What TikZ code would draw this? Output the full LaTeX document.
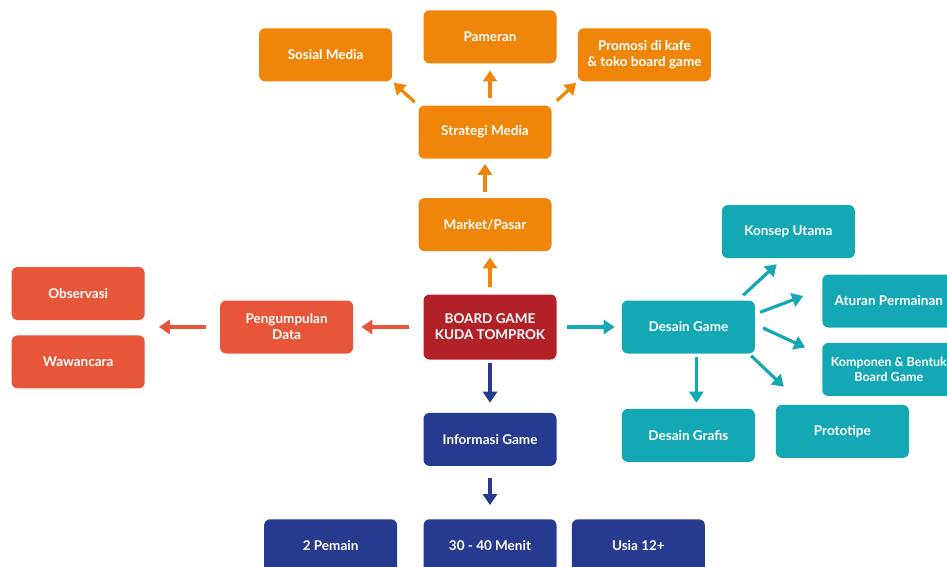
\documentclass[tikz,border=0pt]{standalone}
\usepackage{fontspec}
\setmainfont{Lato}
\usepackage{tikz}
\usetikzlibrary{positioning,arrows.meta}

\definecolor{orangebox}{RGB}{239,134,10}
\definecolor{redbox}{RGB}{232,86,58}
\definecolor{darkbox}{RGB}{178,33,39}
\definecolor{tealbox}{RGB}{20,168,181}
\definecolor{navybox}{RGB}{38,59,143}

\begin{document}
\begin{tikzpicture}[main/.style = {rectangle, rounded corners=6pt, minimum width=133pt, minimum height=53pt, inner sep=0pt, text=white, align=center, font=\bfseries\fontsize{13.5pt}{16pt}\selectfont},
    arr/.style = {line width=3.2pt, -{Triangle[width=14pt,length=11pt]}}]
            \useasboundingbox (0,0) rectangle (947pt,-567pt);
            \node[main, fill=darkbox, minimum height=65pt] (1) at (490pt,-327pt) {BOARD GAME\\KUDA TOMPROK};
            \node[main, fill=orangebox] (2) [above=43pt of 1, xshift=-5pt] {Market/Pasar};
            \node[main, fill=orangebox] (3) [above=39pt of 2] {Strategi Media};
            \node[main, fill=orangebox] (4) [above=42pt of 3, xshift=5pt] {Pameran};
            \node[main, fill=orangebox] (5) [above left=24pt and 26pt of 3] {Sosial Media};
            \node[main, fill=orangebox] (6) [above right=24pt and 26pt of 3] {Promosi di kafe\\\& toko board game};
            \node[main, fill=redbox] (7) [left=70pt of 1] {Pengumpulan\\Data};
            \node[main, fill=redbox] (8) [left=75pt of 7, yshift=33.5pt] {Observasi};
            \node[main, fill=redbox] (9) [below=15pt of 8] {Wawancara};
            \coordinate (m) at (7 -| 8.east);
            \node[main, fill=tealbox] (10) [right=65pt of 1] {Desain Game};
            \node[main, fill=tealbox] (11) [above=42pt of 10, xshift=100pt] {Konsep Utama};
            \node[main, fill=tealbox] (12) [right=67pt of 10, yshift=26pt] {Aturan Permainan};
            \node[main, fill=tealbox, font=\bfseries\fontsize{12.5pt}{15.5pt}\selectfont] (13) [below=15pt of 12] {Komponen \& Bentuk\\Board Game};
            \node[main, fill=tealbox] (14) [below=51pt of 10, xshift=154pt] {Prototipe};
            \node[main, fill=tealbox] (15) [below=55pt of 10] {Desain Grafis};
            \node[main, fill=navybox] (16) [below=53pt of 1] {Informasi Game};
            \node[main, fill=navybox] (17) [below=53pt of 16] {30 - 40 Menit};
            \node[main, fill=navybox] (18) [left=26pt of 17] {2 Pemain};
            \node[main, fill=navybox] (19) [right=15pt of 17] {Usia 12+};
            \draw[arr, orangebox, shorten <=7pt, shorten >=6pt] (1.north) -- (1.north |- 2.south);
            \draw[arr, orangebox, shorten <=6pt, shorten >=5pt] (2.north) -- (3.south);
            \draw[arr, orangebox, shorten <=7pt, shorten >=7pt] (4.south |- 3.north) -- (4.south);
            \draw[arr, orangebox, shorten <=5pt, shorten >=2pt] (3.north west) -- (5.south east);
            \draw[arr, orangebox, shorten <=7pt, shorten >=2pt] (3.north east) -- (6.south west);
            \draw[arr, redbox, shorten <=14pt, shorten >=8pt] (1.west) -- (7.east);
            \draw[arr, redbox, shorten <=14pt, shorten >=14pt] (7.west) -- (m);
            \draw[arr, tealbox, shorten <=10pt, shorten >=7pt] (1.east) -- (10.west);
            \draw[arr, tealbox] ([shift={(-12pt,5pt)}]10.north east) -- ([shift={(55pt,-6pt)}]11.south west);
            \draw[arr, tealbox] ([shift={(5pt,-12pt)}]10.north east) -- ([shift={(-19pt,5pt)}]12.west);
            \draw[arr, tealbox] ([shift={(8pt,-1pt)}]10.east) -- ([shift={(-17pt,22pt)}]13.west);
            \draw[arr, tealbox] ([shift={(-4pt,-2pt)}]10.south east) -- ([shift={(8pt,18pt)}]14.north west);
            \draw[arr, tealbox] ([shift={(8pt,-3pt)}]10.south) -- ([shift={(8pt,6pt)}]15.north);
            \draw[arr, navybox, shorten <=3pt, shorten >=10pt] (1.south) -- (16.north);
            \draw[arr, navybox, shorten <=12pt, shorten >=14pt] (16.south) -- (17.north);
        \end{tikzpicture}
\end{document}
